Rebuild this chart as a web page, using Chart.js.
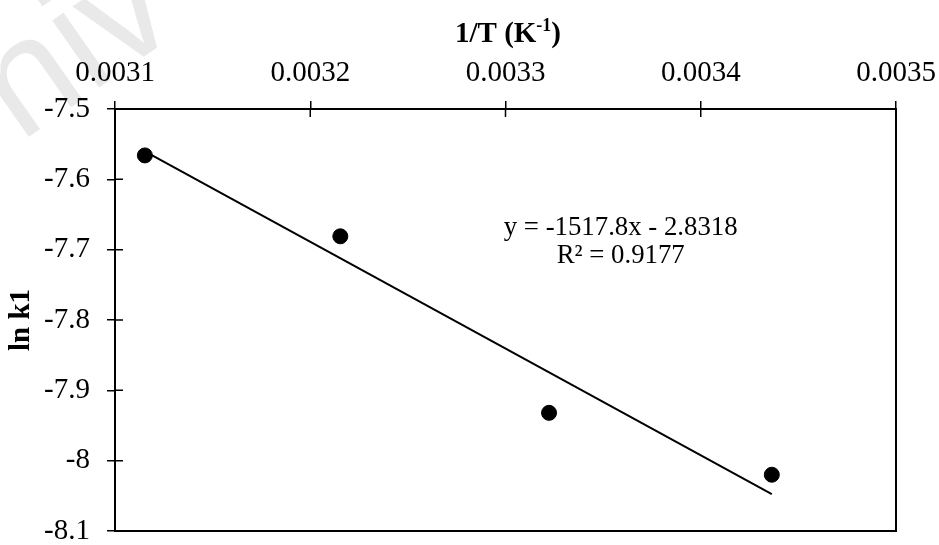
<!DOCTYPE html>
<html>
<head>
<meta charset="utf-8">
<script src="https://cdn.jsdelivr.net/npm/chart.js@4.4.0/dist/chart.umd.min.js"></script>
<style>
  html, body { margin: 0; padding: 0; background: #fff; }
</style>
</head>
<body>
<canvas id="arrheniusChart" width="939" height="545"></canvas>
<script>
// measured points: 1/T (K^-1) against ln k1
const invT = [0.0031153, 0.0032154, 0.0033223, 0.0034364];
const lnK1 = [-7.566, -7.681, -7.932, -8.020];

// linear trendline end points (y = -1517.8x - 2.8318)
const trendX = [0.0031153, 0.0034364];
const trendY = [-7.5602, -8.0476];

const xTicks = [0.0031, 0.0032, 0.0033, 0.0034, 0.0035];
const yTicks = [-7.5, -7.6, -7.7, -7.8, -7.9, -8, -8.1];

const equationLines = ["y = -1517.8x - 2.8318", "R\u00b2 = 0.9177"];

const SERIF = "'Liberation Serif', 'Times New Roman', serif";

// extra drawing: box, inner half of the ticks, top title with superscript, equation, watermark
const extras = {
  id: "extras",
  beforeDraw(chart) {
    const ctx = chart.ctx;
    ctx.save();
    ctx.fillStyle = "#e9e9e9";
    ctx.font = "155px 'Liberation Sans', sans-serif";
    ctx.translate(20, 143);
    ctx.rotate(-0.61);
    ctx.fillText("niv", 0, 0);
    ctx.restore();
  },
  afterDraw(chart) {
    const { ctx, chartArea: a, scales } = chart;
    ctx.save();
    ctx.strokeStyle = "#000";
    ctx.lineWidth = 2;
    ctx.strokeRect(a.left, a.top, a.right - a.left, a.bottom - a.top);

    ctx.lineWidth = 1.5;
    ctx.beginPath();
    scales.x.ticks.forEach(t => {
      const px = scales.x.getPixelForValue(t.value);
      ctx.moveTo(px, a.top);
      ctx.lineTo(px, a.top + 8);
    });
    scales.y.ticks.forEach(t => {
      const py = scales.y.getPixelForValue(t.value);
      ctx.moveTo(a.left, py);
      ctx.lineTo(a.left + 8, py);
    });
    ctx.stroke();

    // axis title "1/T (K-1)" with superscript
    ctx.fillStyle = "#000";
    ctx.textBaseline = "alphabetic";
    ctx.textAlign = "left";
    const big = "bold 29px " + SERIF;
    const small = "bold 18px " + SERIF;
    ctx.font = big;
    const w1 = ctx.measureText("1/T (K").width;
    ctx.font = small;
    const w2 = ctx.measureText("-1").width;
    let x = 455;
    const base = 42;
    ctx.font = big;
    ctx.fillText("1/T (K", x, base);
    x += w1;
    ctx.font = small;
    ctx.fillText("-1", x, base - 11);
    x += w2;
    ctx.font = big;
    ctx.fillText(")", x, base);

    // trendline equation
    ctx.font = "26.8px " + SERIF;
    ctx.textAlign = "center";
    const ex = scales.x.getPixelForValue(0.003359);
    const ey = scales.y.getPixelForValue(-7.6785);
    ctx.fillText(equationLines[0], ex, ey);
    ctx.fillText(equationLines[1], ex, ey + 28);
    ctx.restore();
  }
};

const tickFont = { family: SERIF, size: 29, lineHeight: 1 };

new Chart(document.getElementById("arrheniusChart"), {
  type: "scatter",
  data: {
    datasets: [
      {
        label: "ln k1",
        data: invT.map((v, i) => ({ x: v, y: lnK1[i] })),
        backgroundColor: "#000",
        borderColor: "#000",
        pointRadius: 7.5,
        showLine: false,
      },
      {
        type: "line",
        label: "Linear",
        data: trendX.map((v, i) => ({ x: v, y: trendY[i] })),
        borderColor: "#000",
        borderWidth: 2,
        pointRadius: 0,
        fill: false,
      },
    ],
  },
  options: {
    responsive: false,
    animation: false,
    devicePixelRatio: 1,
    layout: { padding: { top: 0, right: 43, bottom: 14, left: 0 } },
    plugins: { legend: { display: false }, tooltip: { enabled: false } },
    scales: {
      x: {
        type: "linear",
        position: "top",
        min: 0.0031,
        max: 0.0035,
        afterBuildTicks: s => { s.ticks = xTicks.map(v => ({ value: v })); },
        afterFit: s => { s.height = 109; s.paddingLeft = 0; s.paddingRight = 0; },
        grid: { drawOnChartArea: false, drawTicks: true, tickLength: 8, color: "#000", lineWidth: 1.5 },
        border: { color: "#000", width: 2 },
        ticks: {
          font: tickFont,
          color: "#000",
          padding: 13,
          maxRotation: 0,
          autoSkip: false,
          callback: v => Number(v.toFixed(4)).toString(),
        },
      },
      y: {
        min: -8.1,
        max: -7.5,
        afterBuildTicks: s => { s.ticks = yTicks.map(v => ({ value: v })); },
        afterFit: s => { s.width = 115; s.paddingTop = 0; s.paddingBottom = 0; },
        grid: { drawOnChartArea: false, drawTicks: true, tickLength: 8, color: "#000", lineWidth: 1.5 },
        border: { color: "#000", width: 2 },
        title: {
          display: true,
          text: "ln k1",
          color: "#000",
          font: { family: SERIF, size: 29, weight: "bold" },
          padding: { top: 4, bottom: 0 },
        },
        ticks: {
          font: tickFont,
          color: "#000",
          padding: 17,
          autoSkip: false,
          callback: v => Number(v.toFixed(1)).toString(),
        },
      },
    },
  },
  plugins: [extras],
});
</script>
</body>
</html>
